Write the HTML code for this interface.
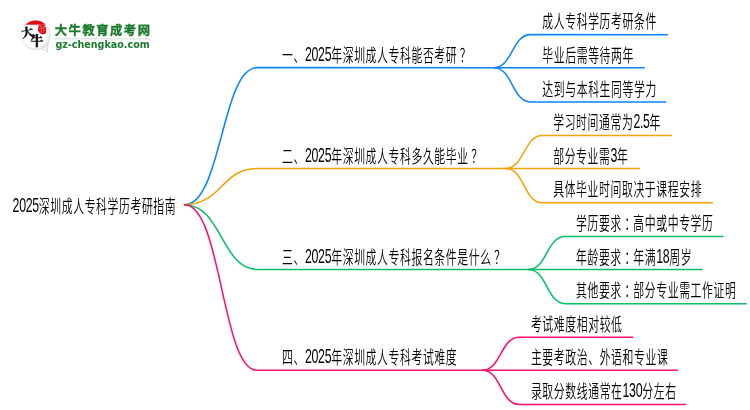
<!DOCTYPE html>
<html lang="zh-CN"><head><meta charset="utf-8"><title>2025深圳成人专科学历考研指南</title>
<style>html,body{margin:0;padding:0;background:#fff}body{width:750px;height:410px;overflow:hidden}svg{display:block;will-change:transform}.t{font-family:"Liberation Sans", "Noto Sans CJK SC", sans-serif;font-size:17.7px;fill:#000;font-weight:350;letter-spacing:1.0px}.d{font-size:20.2px;letter-spacing:-0.55px;font-weight:400}.ln{fill:none;stroke-width:1.55;stroke-linecap:round;stroke-linejoin:round}</style></head><body>
<svg width="750" height="410" viewBox="0 0 750 410">
<rect width="750" height="410" fill="#fff"/>
<path class="ln" stroke="#0d84fb" d="M184.5,204.7 C221.62,204.7 221.62,67.65 257.0,67.65 L494.1,67.65"/>
<path class="ln" stroke="#0d84fb" d="M494.1,67.65 C512.25,67.65 512.25,34.650000000000006 530.4,34.650000000000006 L667.4,34.650000000000006"/>
<path class="ln" stroke="#0d84fb" d="M494.1,67.65 L644.1999999999999,67.65"/>
<path class="ln" stroke="#0d84fb" d="M494.1,67.65 C512.25,67.65 512.25,101.9 530.4,101.9 L665.6999999999999,101.9"/>
<path class="ln" stroke="#f0a30a" d="M184.5,204.7 C221.62,204.7 221.62,168.5 257.0,168.5 L505.9,168.5"/>
<path class="ln" stroke="#f0a30a" d="M505.9,168.5 C524.05,168.5 524.05,135.5 542.1999999999999,135.5 L671.1,135.5"/>
<path class="ln" stroke="#f0a30a" d="M505.9,168.5 L639.4,168.5"/>
<path class="ln" stroke="#f0a30a" d="M505.9,168.5 C524.05,168.5 524.05,202.75 542.1999999999999,202.75 L712.4,202.75"/>
<path class="ln" stroke="#0abf63" d="M184.5,204.7 C221.62,204.7 221.62,269.4 257.0,269.4 L528.7,269.4"/>
<path class="ln" stroke="#0abf63" d="M528.7,269.4 C546.85,269.4 546.85,236.39999999999998 565.0,236.39999999999998 L722.8,236.39999999999998"/>
<path class="ln" stroke="#0abf63" d="M528.7,269.4 L701.9,269.4"/>
<path class="ln" stroke="#0abf63" d="M528.7,269.4 C546.85,269.4 546.85,303.65 565.0,303.65 L746.3,303.65"/>
<path class="ln" stroke="#ff0f6e" d="M184.5,204.7 C221.62,204.7 221.62,370.2 257.0,370.2 L482.7,370.2"/>
<path class="ln" stroke="#ff0f6e" d="M482.7,370.2 C500.85,370.2 500.85,337.2 519.0,337.2 L632.6999999999999,337.2"/>
<path class="ln" stroke="#ff0f6e" d="M482.7,370.2 L677.5,370.2"/>
<path class="ln" stroke="#ff0f6e" d="M482.7,370.2 C500.85,370.2 500.85,404.45 519.0,404.45 L685.5,404.45"/>
<g class="t">
<text transform="translate(12.60,213) scale(0.613,1)" ><tspan class="d" dy="-1.00">2025</tspan><tspan dy="1.00">深圳成人专科学历考研指南</tspan></text>
<text transform="translate(282.10,62) scale(0.613,1)" >一、<tspan class="d" dy="-1.00">2025</tspan><tspan dy="1.00">年深圳成人专科能否考研</tspan><tspan dx="4.20">？</tspan></text>
<text transform="translate(542.30,28) scale(0.613,1)" >成人专科学历考研条件</text>
<text transform="translate(542.30,62) scale(0.613,1)" >毕业后需等待两年</text>
<text transform="translate(542.30,96) scale(0.613,1)" >达到与本科生同等学力</text>
<text transform="translate(282.10,163) scale(0.613,1)" >二、<tspan class="d" dy="-1.00">2025</tspan><tspan dy="1.00">年深圳成人专科多久能毕业</tspan><tspan dx="4.20">？</tspan></text>
<text transform="translate(553.20,129) scale(0.613,1)" >学习时间通常为<tspan class="d" dy="-1.00">2.5</tspan><tspan dy="1.00">年</tspan></text>
<text transform="translate(553.20,163) scale(0.613,1)" >部分专业需<tspan class="d" dy="-1.00">3</tspan><tspan dy="1.00">年</tspan></text>
<text transform="translate(553.20,196) scale(0.613,1)" >具体毕业时间取决于课程安排</text>
<text transform="translate(282.10,264) scale(0.613,1)" >三、<tspan class="d" dy="-1.00">2025</tspan><tspan dy="1.00">年深圳成人专科报名条件是什么</tspan><tspan dx="4.20">？</tspan></text>
<text transform="translate(576.00,230) scale(0.613,1)" >学历要求<tspan dx="4.20">：</tspan><tspan dx="-4.20">高中或中专学历</tspan></text>
<text transform="translate(576.00,264) scale(0.613,1)" >年龄要求<tspan dx="4.20">：</tspan><tspan dx="-4.20">年满</tspan><tspan class="d" dy="-1.00">18</tspan><tspan dy="1.00">周岁</tspan></text>
<text transform="translate(576.00,297) scale(0.613,1)" >其他要求<tspan dx="4.20">：</tspan><tspan dx="-4.20">部分专业需工作证明</tspan></text>
<text transform="translate(282.10,364) scale(0.613,1)" >四、<tspan class="d" dy="-1.00">2025</tspan><tspan dy="1.00">年深圳成人专科考试难度</tspan></text>
<text transform="translate(530.90,331) scale(0.613,1)" >考试难度相对较低</text>
<text transform="translate(530.90,364) scale(0.613,1)" >主要考政治、外语和专业课</text>
<text transform="translate(530.90,398) scale(0.613,1)" >录取分数线通常在<tspan class="d" dy="-1.00">130</tspan><tspan dy="1.00">分左右</tspan></text>
</g>
<g id="logo">
<defs>
<radialGradient id="bg" cx="0.42" cy="0.42" r="0.62"><stop offset="0.8" stop-color="#ffffff"/><stop offset="1" stop-color="#dcdcdc"/></radialGradient>
<clipPath id="cc"><circle cx="35.6" cy="35.1" r="14.6"/></clipPath>
</defs>
<path d="M41.2,48.6 Q45,50.6 47.6,52.2 Q46.6,47.5 48.6,43.2 Z" fill="#f4f4f4" stroke="#c9c9c9" stroke-width="0.7" stroke-linejoin="round"/>
<circle cx="35.6" cy="35.1" r="14.6" fill="url(#bg)" stroke="#d6d6d6" stroke-width="0.6"/>
<rect x="20" y="18" width="32" height="6.7" fill="#e30a17" clip-path="url(#cc)"/>
<path d="M39.2,25 Q41.5,24.2 44.2,24.9 Q46.2,26.2 46.1,29 Q46.4,32 45.6,33.6 Q43.5,34.5 41,33.9 Q38.4,32.8 38,30 Q37.7,27 39.2,25 Z" fill="#e30a17"/>
<path d="M40.2,26.6 l1.6,-0.3 M39.9,28.6 l2,0.1 M42.9,27.2 l0.3,2.2 M43.6,30.6 l1.2,-0.2 M41.2,30.8 l0.4,1.6 M44.4,26.6 l0.5,1.4" stroke="#fff" stroke-width="0.55" stroke-linecap="round" opacity="0.75" fill="none"/>
<g font-family="'Noto Serif CJK SC','Noto Sans CJK SC',serif" font-weight="900" fill="#111">
<text x="21.2" y="37.0" font-size="12" transform="rotate(-10 26.5 32)" stroke="#111" stroke-width="0.3">大</text>
<text x="30.5" y="45.3" font-size="13" stroke="#111" stroke-width="0.3">牛</text>
</g>
<g fill="#1b7a2c" stroke="#1b7a2c">
<text x="54.8" y="34.6" font-family="'Liberation Sans','Noto Sans CJK SC',sans-serif" font-weight="700" font-size="12.3" stroke-width="0.35" textLength="95.2" lengthAdjust="spacing">大牛教育成考网</text>
<text x="55.4" y="47.5" font-family="'DejaVu Sans','Liberation Sans',sans-serif" font-weight="700" font-size="9.6" stroke="none" textLength="94.3" lengthAdjust="spacingAndGlyphs">gz-chengkao.com</text>
</g>
<rect x="54" y="38.4" width="96.5" height="0.9" fill="#c4dcc7"/>
</g>
</svg></body></html>
